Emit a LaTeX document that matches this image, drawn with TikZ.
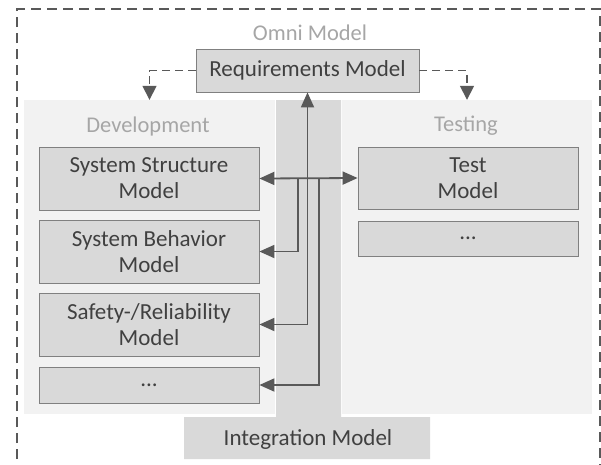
\documentclass[tikz,border=0pt]{standalone}
\usepackage{fontspec}
\setmainfont{Carlito}
\usetikzlibrary{arrows.meta}
\definecolor{panelgray}{HTML}{F2F2F2}
\definecolor{boxgray}{HTML}{D9D9D9}
\definecolor{linegray}{HTML}{595959}
\definecolor{titlegray}{HTML}{A6A6A6}
\definecolor{textgray}{HTML}{404040}
\begin{document}
\begin{tikzpicture}[x=1pt,y=-1pt,
    every node/.style={font=\fontsize{23}{26}\selectfont},
    panel/.style={fill=panelgray,inner sep=0pt,minimum height=314pt},
    model/.style={fill=boxgray,draw=gray,line width=0.8pt,text=textgray,align=center,inner sep=0pt,minimum width=220pt},
    title/.style={text=titlegray,font=\fontsize{22.5}{26}\selectfont},
    link/.style={draw=linegray,line width=1.8pt,-{Triangle[length=15pt,width=13pt]}},
    hint/.style={draw=linegray,line width=1.6pt,dash pattern=on 8pt off 5pt,-{Triangle[length=14pt,width=14pt]}}]
    \clip (0,0) rectangle (601,464);
    % omni frame
    \draw[linegray,line width=2pt,dash pattern=on 10pt off 6pt] (17,475) -- (17,9) -- (600,9) -- (600,475);
    \node[title] (omni) at (310,33) {Omni Model};
    % panels and integration column
    \node[panel,minimum width=251pt] (dev) at (149.5,257) {};
    \node[panel,minimum width=250pt] (test) at (467,257) {};
    \fill[boxgray] (276,100) -- (341,100) -- (341,417) -- (430,417) -- (430,459)
        -- (184,459) -- (184,417) -- (276,417) -- cycle;
    \node[text=textgray] (integ) at (308,439) {Integration Model};
    \node[title] (devtitle) at (148,126) {Development};
    \node[title] (testtitle) at (466,126) {Testing};
    % models
    \node[model,minimum width=223pt,minimum height=43pt] (req) at (307.5,70.5) {Requirements Model};
    \node[model,minimum height=63pt] (sys) at (149,178.5) {System Structure\\Model};
    \node[model,minimum height=63pt] (beh) at (149,251.5) {System Behavior\\Model};
    \node[model,minimum height=63pt] (reli) at (149,324.5) {Safety-/Reliability\\Model};
    \node[model,minimum height=36pt] (devmore) at (149,385) {...};
    \node[model,minimum height=62pt] (tm) at (468,178) {Test\\Model};
    \node[model,minimum height=35pt] (testmore) at (468,238.5) {...};
    % links
    \draw[hint] (req.west) -| (dev.north);
    \draw[hint] (req.east) -| (test.north);
    \coordinate (hubl) at (298,178.5);
    \coordinate (hubr) at (319,178.5);
    \draw[link,{Triangle[length=15pt,width=13pt]}-{Triangle[length=15pt,width=13pt]}] (sys.east) -- (tm.west);
    \draw[link,{Triangle[length=15pt,width=13pt]}-{Triangle[length=15pt,width=13pt]}] (reli.east) -- (reli.east -| req.south) -- (req.south);
    \draw[link] (hubl) |- (beh.east);
    \draw[link] (hubr) |- (devmore.east);
\end{tikzpicture}
\end{document}
